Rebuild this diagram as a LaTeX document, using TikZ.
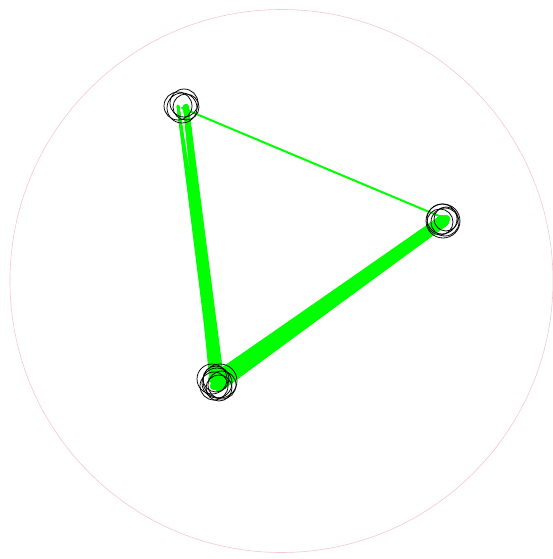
\documentclass[tikz,border=0pt]{standalone}
\usepackage{xcolor}
\usepackage{tikz}
\usetikzlibrary{backgrounds}
\definecolor{RimC}{HTML}{F5C6CF}
\definecolor{EdgeC}{HTML}{00FF00}
\begin{document}
\begin{tikzpicture}[x=1pt,y=-1pt,
  ring/.style={circle,draw=black,line width=.75pt,inner sep=0pt},
  edge/.style={EdgeC,line cap=round}]
\useasboundingbox (0,0) rectangle (553,559);

% ---------- boundary ----------
\draw[RimC,line width=.6pt] (281.5,281) circle (271.5);

% ---------- clusters ----------
\foreach \n/\x/\y/\r in {a1/178/106/14, a2/184/103/14, a3/186/107/13, a4/182/108/15}
  \node[ring,minimum size=2*\r pt] (\n) at (\x,\y) {};
\foreach \n/\x/\y/\r in {b1/442/219/15, b2/445/222/14, b3/443/221/17, b4/440/222/13, b5/446/219/12}
  \node[ring,minimum size=2*\r pt] (\n) at (\x,\y) {};
\foreach \n/\x/\y/\r in {c1/212/379/15, c2/217/383/15, c3/220/381/17, c4/214/386/14,
                         c5/222/385/14, c6/216/379/13, c7/219/388/13}
  \node[ring,minimum size=2*\r pt] (\n) at (\x,\y) {};

% ---------- edges ----------
\begin{scope}[on background layer]
  \foreach \s/\w in {a1/2.5,a3/5.5}{
    \foreach \t in {1,...,7}
      \draw[edge,line width=\w pt] (\s.center) -- (c\t.center);}
  \foreach \s in {1,...,5}{
    \foreach \t in {1,...,7}
      \draw[edge,line width=7.5pt] (b\s.center) -- (c\t.center);}
  \draw[edge,line width=2pt] (a4.center) -- (b5.center);
\end{scope}
\end{tikzpicture}
\end{document}
